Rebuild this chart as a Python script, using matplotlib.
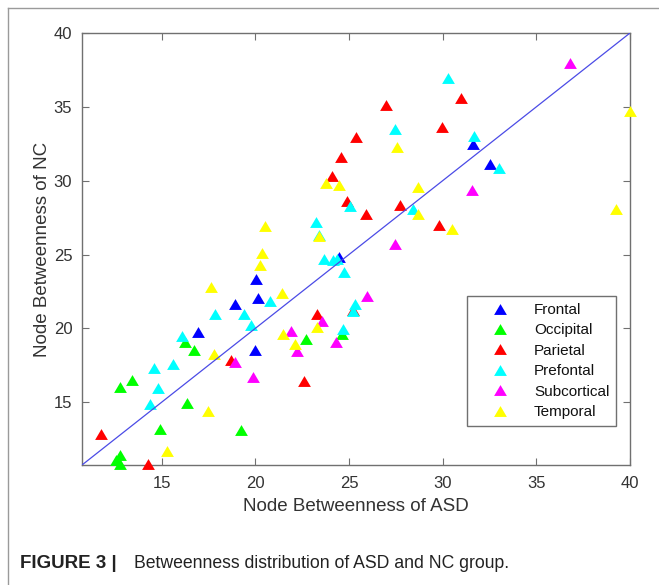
import matplotlib
matplotlib.use("Agg")
import matplotlib.pyplot as plt
from matplotlib.lines import Line2D

plt.rcParams['font.family'] = ['Liberation Sans', 'DejaVu Sans']

categories = ["Frontal", "Occipital", "Parietal", "Prefontal", "Subcortical", "Temporal"]
colors = ["#0000ff", "#00ff00", "#ff0000", "#00ffff", "#ff00ff", "#ffff00"]

frontal_asd = [20.03, 20.14, 18.93, 16.92, 20.00, 24.45, 31.60, 32.52]
frontal_nc = [23.36, 22.04, 21.66, 19.73, 18.51, 24.80, 32.50, 31.15]

occipital_asd = [16.26, 16.74, 13.42, 12.76, 16.35, 14.89, 19.25, 12.79, 12.58, 12.79, 22.70, 24.64]
occipital_nc = [19.05, 18.53, 16.49, 16.04, 14.98, 13.21, 13.14, 11.45, 11.06, 10.83, 19.26, 19.62]

parietal_asd = [18.70, 11.76, 14.25, 25.20, 23.27, 22.61, 26.97, 29.94, 25.40, 24.60, 24.07,
                24.87, 25.90, 27.72, 29.82, 30.96]
parietal_nc = [17.87, 12.83, 10.81, 21.27, 20.98, 16.45, 35.11, 33.66, 32.98, 31.60, 30.31,
               28.65, 27.75, 28.38, 27.02, 35.60]

prefrontal_asd = [20.80, 17.83, 19.41, 19.78, 16.08, 15.59, 14.57, 14.80, 14.36, 23.68, 24.16,
                  24.34, 24.73, 25.31, 25.22, 24.69, 30.29, 27.45, 25.08, 28.43, 23.23, 23.40,
                  31.67, 33.00]
prefrontal_nc = [21.86, 20.96, 20.98, 20.23, 19.48, 17.56, 17.29, 15.97, 14.91, 24.71, 24.65,
                 24.71, 23.79, 21.63, 21.20, 19.96, 36.92, 33.48, 28.27, 28.11, 27.21, 26.35,
                 33.02, 30.88]

subcortical_asd = [18.93, 19.86, 27.45, 25.97, 23.57, 24.30, 21.90, 22.20, 36.79, 31.54]
subcortical_nc = [17.74, 16.68, 25.70, 22.20, 20.52, 19.05, 19.84, 18.46, 38.00, 29.40]

temporal_asd = [20.35, 20.26, 17.65, 17.77, 17.47, 15.30, 20.50, 21.44, 23.32, 21.49, 22.11,
                27.54, 23.75, 24.48, 28.66, 28.69, 23.39, 30.50, 40.00, 39.24]
temporal_nc = [25.10, 24.26, 22.79, 18.24, 14.41, 11.67, 26.90, 22.38, 20.07, 19.60, 18.94,
               32.28, 29.81, 29.74, 29.56, 27.77, 26.23, 26.73, 34.72, 28.11]

series_asd = [frontal_asd, occipital_asd, parietal_asd, prefrontal_asd, subcortical_asd, temporal_asd]
series_nc = [frontal_nc, occipital_nc, parietal_nc, prefrontal_nc, subcortical_nc, temporal_nc]

xticks = [15, 20, 25, 30, 35, 40]
yticks = [15, 20, 25, 30, 35, 40]
lim = [10.75, 40.0]

W, H = 659, 585
fig = plt.figure(figsize=(W / 100, H / 100), dpi=100)
fig.patch.set_facecolor("white")

# figure frame (left and top edges)
fig.add_artist(Line2D([8 / W, 8 / W], [0, 1 - 8 / H], color="#9a9a9a", lw=1.0,
                      transform=fig.transFigure))
fig.add_artist(Line2D([8 / W, 1], [1 - 8 / H, 1 - 8 / H], color="#9a9a9a", lw=1.0,
                      transform=fig.transFigure))

ax = fig.add_axes([82 / W, 1 - 465 / H, (630 - 82) / W, (465 - 33) / H])

tri = [(0, 0.85), (-1, -0.85), (1, -0.85)]
for cat, col, xs, ys in zip(categories, colors, series_asd, series_nc):
    ax.plot(xs, ys, linestyle="none", marker=tri, ms=9.2, mew=0, color=col,
            clip_on=False, label=cat, zorder=3)

ax.plot(lim, lim, color="#4b4be6", lw=0.9, zorder=4)

ax.set_xlim(lim)
ax.set_ylim(lim)
ax.set_xticks(xticks)
ax.set_yticks(yticks)

spine_col = "#707070"
for s in ax.spines.values():
    s.set_color(spine_col)
    s.set_linewidth(1.0)
ax.tick_params(direction="in", length=5, width=0.8, color=spine_col, top=True, right=True,
               labelsize=12, labelcolor="#333333")
ax.tick_params(axis="x", pad=8)
ax.tick_params(axis="y", pad=7)

ax.set_xlabel("Node Betweenness of ASD", fontsize=13.5, color="#333333", labelpad=5)
ax.set_ylabel("Node Betweenness of NC", fontsize=13.5, color="#333333", labelpad=2)

leg = ax.legend(loc="upper left", bbox_to_anchor=((466.7 - 82) / 548, 1 - (296 - 33) / 432),
                borderaxespad=0, fontsize=11, frameon=True, fancybox=False,
                edgecolor="#707070", framealpha=1, numpoints=1, handlelength=3.5,
                handletextpad=0.45, labelspacing=0.42, borderpad=0.45)
leg.get_frame().set_linewidth(1.0)
for t in leg.get_texts():
    t.set_color("#111111")

fig.text(20 / W, 1 - 563 / H, "FIGURE 3 |", fontsize=13.5, fontweight="bold",
         color="#222222", va="center", ha="left")
fig.text(134 / W, 1 - 563 / H, "Betweenness distribution of ASD and NC group.",
         fontsize=12.7, color="#222222", va="center", ha="left")

fig.savefig("out.png", dpi=100)
